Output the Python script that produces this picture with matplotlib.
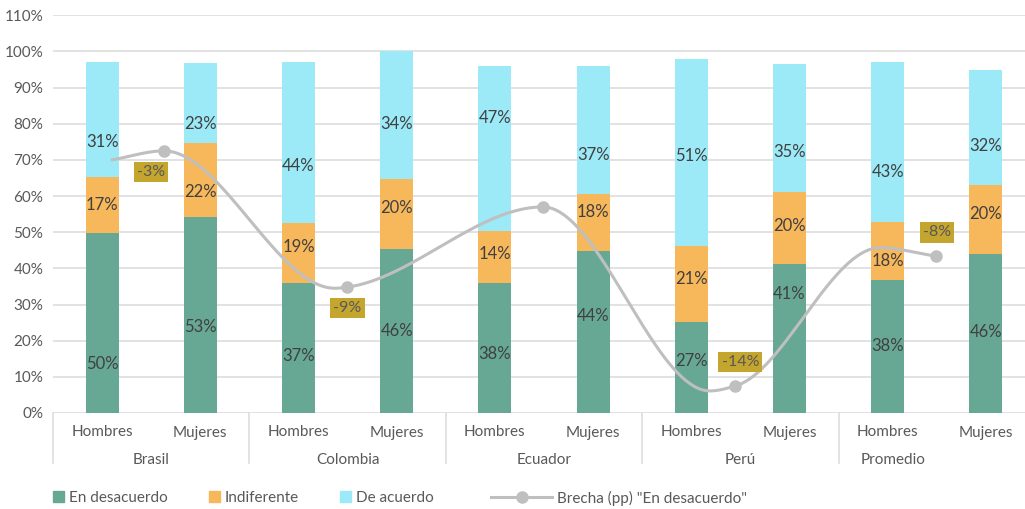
import numpy as np
import matplotlib.pyplot as plt
from matplotlib.patches import Patch
from matplotlib.lines import Line2D

plt.rcParams['font.family'] = ['Lato', 'DejaVu Sans']

paises = ['Brasil', 'Colombia', 'Ecuador', 'Perú', 'Promedio']
sexos = ['Hombres', 'Mujeres']

# alturas de las barras apiladas (%), Hombres/Mujeres por país
desacuerdo = [49.8, 54.1, 35.9, 45.3, 35.9, 44.8, 25.1, 41.2, 36.7, 43.9]
indiferente = [15.4, 20.5, 16.6, 19.3, 14.4, 15.7, 21.0, 19.8, 16.1, 19.1]
acuerdo = [31.8, 22.1, 44.5, 35.4, 45.6, 35.4, 51.7, 35.4, 44.2, 32.0]

# etiquetas de datos tal como aparecen
etq_desacuerdo = [50, 53, 37, 46, 38, 44, 27, 41, 38, 46]
etq_indiferente = [17, 22, 19, 20, 14, 18, 21, 20, 18, 20]
etq_acuerdo = [31, 23, 44, 34, 47, 37, 51, 35, 43, 32]

# brecha "En desacuerdo" (pp) por país
brecha = [-3, -9, -6, -14, -8]
brecha_visible = [True, True, False, True, True]
brecha_lado = ['abajo', 'abajo', None, 'arriba', 'arriba']

# curva suavizada de la brecha (x en posiciones de categoría, y en %)
curva_x = [0.10, 0.63, 2.37, 2.49, 4.49, 6.19, 6.45, 7.92, 8.49]
curva_y = [70.0, 72.5, 34.5, 34.8, 57.0, 6.1, 7.5, 45.7, 43.4]
curva_marcas = [1, 3, 4, 6, 8]

# altura a la que se ubicó cada etiqueta en el original (no siempre centrada)
pos_desacuerdo = [13.5, 23.7, 15.7, 22.6, 16.3, 26.8, 14.4, 32.9, 18.5, 22.4]
pos_indiferente = [57.5, 61.0, 45.9, 56.6, 43.9, 55.5, 37.0, 51.7, 42.0, 55.0]
pos_acuerdo = [74.9, 79.8, 68.2, 79.8, 81.5, 71.3, 71.0, 72.1, 66.6, 73.8]

verde = '#67A894'
naranja = '#F7B75B'
celeste = '#9CEAF7'
gris_linea = '#BFBFBF'
gris_txt = '#595959'
gris_grid = '#DDDDDD'


def pchip(x, y, xs):
    # interpolación cúbica monótona (sin sobrepasos)
    x = np.asarray(x, float)
    y = np.asarray(y, float)
    h = np.diff(x)
    d = np.diff(y) / h
    m = np.zeros_like(y)
    for k in range(1, len(x) - 1):
        if d[k - 1] * d[k] > 0:
            w1 = 2 * h[k] + h[k - 1]
            w2 = h[k] + 2 * h[k - 1]
            m[k] = (w1 + w2) / (w1 / d[k - 1] + w2 / d[k])
    m[0] = d[0]
    m[-1] = d[-1]
    i = np.clip(np.searchsorted(x, xs) - 1, 0, len(h) - 1)
    t = (xs - x[i]) / h[i]
    h00 = 2 * t**3 - 3 * t**2 + 1
    h10 = t**3 - 2 * t**2 + t
    h01 = -2 * t**3 + 3 * t**2
    h11 = t**3 - t**2
    return h00 * y[i] + h10 * h[i] * m[i] + h01 * y[i + 1] + h11 * h[i] * m[i + 1]


fig = plt.figure(figsize=(10.25, 5.09), dpi=100)
ax = fig.add_axes([53 / 1025, 96 / 509, 982 / 1025, 397.7 / 509])

x = np.arange(len(desacuerdo))
ancho = 0.335
base2 = np.array(desacuerdo)
base3 = base2 + np.array(indiferente)

ax.bar(x, desacuerdo, width=ancho, color=verde, zorder=2)
ax.bar(x, indiferente, bottom=base2, width=ancho, color=naranja, zorder=2)
ax.bar(x, acuerdo, bottom=base3, width=ancho, color=celeste, zorder=2)

for etq, pos in [(etq_desacuerdo, pos_desacuerdo),
                 (etq_indiferente, pos_indiferente),
                 (etq_acuerdo, pos_acuerdo)]:
    for xi, v, py in zip(x, etq, pos):
        ax.text(xi, py, f'{v}%', ha='center', va='center', fontsize=12,
                color='#404040', zorder=5)

# curva de la brecha
xs = np.linspace(curva_x[0], curva_x[-1], 400)
ax.plot(xs, pchip(curva_x, curva_y, xs), color=gris_linea, lw=2.2, zorder=3,
        solid_capstyle='round')
mx = [curva_x[i] for i in curva_marcas]
my = [curva_y[i] for i in curva_marcas]
ax.plot(mx, my, 'o', ms=8, color=gris_linea, zorder=4)

for k, (b, vis, lado) in enumerate(zip(brecha, brecha_visible, brecha_lado)):
    if not vis:
        continue
    off = -15 if lado == 'abajo' else 17
    ax.annotate(f'{b}%', xy=(2 * k + 0.5, my[k]), xytext=(0, off),
                textcoords='offset points', ha='center', va='center',
                fontsize=11.5, color=gris_txt, zorder=6,
                bbox=dict(boxstyle='square,pad=0.2', fc='#C4A52D', ec='none'))

# ejes
ax.set_xlim(-0.5, 9.5)
ax.set_ylim(0, 110)
ax.set_yticks(range(0, 111, 10))
ax.set_yticklabels([f'{v}%' for v in range(0, 111, 10)])
ax.set_xticks(x)
ax.set_xticklabels(sexos * len(paises))
ax.tick_params(axis='y', length=0, pad=7, labelsize=11, labelcolor=gris_txt)
ax.tick_params(axis='x', length=0, pad=9, labelsize=11, labelcolor=gris_txt)
ax.yaxis.grid(True, color=gris_grid, lw=1.2)
ax.set_axisbelow(True)
for s in ax.spines.values():
    s.set_visible(False)

# separadores y nombres de país
tr = ax.get_xaxis_transform()
for sx in np.arange(-0.5, len(x), 2):
    ax.plot([sx, sx], [0, -0.126], transform=tr, color=gris_grid, lw=1.2,
            clip_on=False)
for k, p in enumerate(paises):
    cx = 2 * k + 0.5 if k < len(paises) - 1 else 2 * k + 0.05
    ax.text(cx, -0.118, p, transform=tr, ha='center', va='center',
            fontsize=11, color=gris_txt)

# leyenda
h1 = [Patch(color=verde), Patch(color=naranja), Patch(color=celeste)]
fig.legend(h1, ['En desacuerdo', 'Indiferente', 'De acuerdo'],
           loc='center left', bbox_to_anchor=(53 / 1025, 11 / 509),
           ncol=3, frameon=False, fontsize=11, labelcolor=gris_txt,
           handlelength=0.7, handleheight=0.7, handletextpad=0.35,
           columnspacing=2.7, borderpad=0, borderaxespad=0)
h2 = [Line2D([], [], color=gris_linea, lw=2.2, marker='o', ms=8)]
fig.legend(h2, ['Brecha (pp) "En desacuerdo"'], loc='center left',
           bbox_to_anchor=(491 / 1025, 11 / 509), frameon=False, fontsize=11,
           labelcolor=gris_txt, handlelength=4.0, handletextpad=0.3,
           borderpad=0, borderaxespad=0)

fig.savefig('out.png', dpi=100)
